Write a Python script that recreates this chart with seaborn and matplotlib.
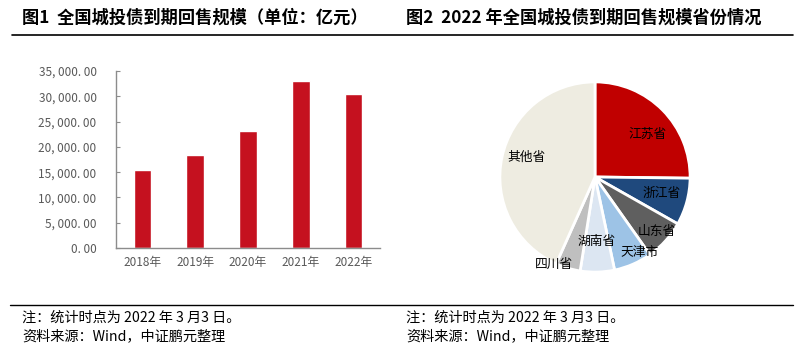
import matplotlib
matplotlib.use("Agg")
import matplotlib.pyplot as plt
from matplotlib.ticker import FuncFormatter
from matplotlib.lines import Line2D
import seaborn as sns
import pandas as pd

# Figure 1: annual maturity/put volume of LGFV bonds (100 million yuan)
years = ["2018年", "2019年", "2020年", "2021年", "2022年"]
volumes = [15450, 18400, 23150, 33000, 30450]

# Figure 2: 2022 breakdown by province (share, %)
provinces = ["江苏省", "浙江省", "山东省", "天津市", "湖南省", "四川省", "其他省"]
shares = [25.2, 8.0, 7.0, 6.5, 5.8, 4.2, 43.3]
slice_colors = ["#C00000", "#1F497D", "#5F5F5F", "#9DC3E6", "#DCE6F2", "#BFBFBF", "#EEECE1"]

sns.set_theme(style="white")
plt.rcParams["font.family"] = ["Noto Sans CJK SC", "DejaVu Sans"]

W, H = 801, 348
fig = plt.figure(figsize=(W / 100, H / 100), dpi=100)

def fx(px):
    return px / W

def fy(py):
    return 1 - py / H

# Titles and rules
fig.text(fx(22), fy(18), "图1  全国城投债到期回售规模（单位：亿元）", fontsize=12.4,
         fontweight="bold", va="center", ha="left", color="black")
fig.text(fx(406), fy(18), "图2  2022 年全国城投债到期回售规模省份情况", fontsize=12.4,
         fontweight="bold", va="center", ha="left", color="black")
fig.add_artist(Line2D([fx(12), fx(793)], [fy(35), fy(35)], color="black", lw=1.2))
fig.add_artist(Line2D([fx(10), fx(793)], [fy(305), fy(305)], color="black", lw=1.0))
for x0 in (22, 406):
    fig.text(fx(x0), fy(318), "注：统计时点为 2022 年 3 月3 日。", fontsize=10.2,
             va="center", ha="left", color="black")
    fig.text(fx(x0), fy(336), "资料来源：Wind，中证鹏元整理", fontsize=10.2,
             va="center", ha="left", color="black")

# Bar chart
ax = fig.add_axes([fx(116), fy(248), fx(380) - fx(116), fy(71) - fy(248)])
df = pd.DataFrame({"year": years, "volume": volumes})
sns.barplot(data=df, x="year", y="volume", color="#C5111F", width=0.33,
            saturation=1, ax=ax)
ax.set_ylim(0, 35000)
ax.set_yticks(range(0, 35001, 5000))
ax.yaxis.set_major_formatter(FuncFormatter(
    lambda v, p: f"{v:,.2f}".replace(",", ", ").replace(".", ". ")))
ax.set_xlabel("")
ax.set_ylabel("")
for s in ("top", "right"):
    ax.spines[s].set_visible(False)
for s in ("left", "bottom"):
    ax.spines[s].set_color("#8C8C8C")
    ax.spines[s].set_linewidth(1.0)
ax.tick_params(axis="y", direction="in", length=3, width=0.8, color="#8C8C8C",
               labelsize=8.5, labelcolor="#595959", pad=14, left=True)
ax.tick_params(axis="x", length=0, labelsize=8.5, labelcolor="#595959", pad=6)
ax.grid(False)

# Pie chart
r = 97
pax = fig.add_axes([fx(595 - r), fy(177 + r), fx(2 * r), fy(177 - r) - fy(177 + r)])
wedges, _ = pax.pie(shares, colors=slice_colors, startangle=90, counterclock=False,
                    radius=1.0, wedgeprops=dict(edgecolor="white", linewidth=2))
pax.set_xlim(-1.02, 1.02)
pax.set_ylim(-1.02, 1.02)
pax.set_aspect("equal")
pax.axis("off")

label_pos = [(0.55, 0.45), (0.70, -0.17), (0.65, -0.57), (0.47, -0.79),
             (0.02, -0.68), (-0.43, -0.92), (-0.72, 0.21)]
for name, (lx, ly) in zip(provinces, label_pos):
    pax.text(lx, ly, name, ha="center", va="center", fontsize=9.2, color="black")

fig.savefig("out.png", dpi=100)
